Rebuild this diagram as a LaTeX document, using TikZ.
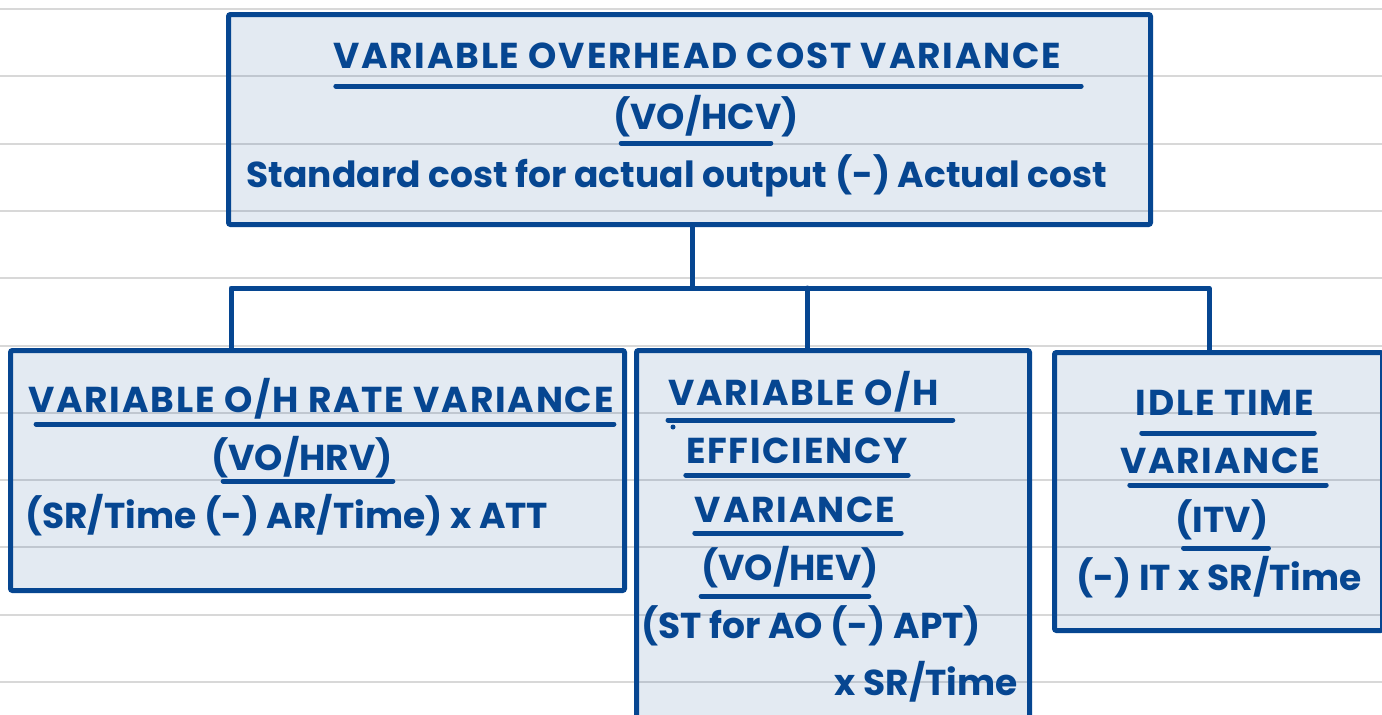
\documentclass[tikz,border=0pt]{standalone}
\usepackage{fontspec}
\setmainfont{Poppins}
\usetikzlibrary{positioning}
\definecolor{inkblue}{RGB}{6,70,145}
\definecolor{rulegray}{RGB}{216,216,216}

\begin{document}
\begin{tikzpicture}[x=1pt,y=-1pt,
                    box node/.style={draw=inkblue,line width=5pt,fill=inkblue,fill opacity=0.11,
                                     rounded corners=2pt,anchor=north west,inner sep=0pt},
                    label node/.style={text=inkblue,inner sep=0pt,anchor=base,
                                       font=\fontsize{36}{42}\selectfont\bfseries},
                    head node/.style={label node,
                                      font=\fontsize{36}{42}\selectfont\bfseries\addfontfeatures{LetterSpace=5}},
                    under/.style={draw=inkblue,line width=5pt,line cap=round},
                    link/.style={draw=inkblue,line width=5pt,line cap=round,line join=round}]

  \clip (0,0) rectangle (1382,715);
  \fill[white] (0,0) rectangle (1382,715);

  % notebook lines
  \foreach \k in {0,...,10}
    \draw[rulegray,line width=2pt] (0,{9+67.3*\k}) -- (1382,{9+67.3*\k});

  \node[box node,minimum width=922pt,minimum height=210pt] (top) at (226,12) {};
  \node[box node,minimum width=614pt,minimum height=240pt] (rate) at (8,348) {};
  \node[box node,minimum width=393pt,minimum height=400pt] (eff) at (634,348) {};
  \node[box node,minimum width=328pt,minimum height=278pt] (idle) at (1052,350) {};

  \node[head node] (t1) at (697,68) {VARIABLE OVERHEAD COST VARIANCE};
  \node[label node] (t2) at (706,129) {(VO/HCV)};
  \node[label node] (t3) at (677,187) {Standard cost for actual output (-) Actual cost};

  \node[head node] (r1) at (321,412) {VARIABLE O/H RATE VARIANCE};
  \node[label node] (r2) at (302,470) {(VO/HRV)};
  \node[label node,anchor=base west] (r3) at (25,528) {(SR/Time (-) AR/Time) x ATT};

  \node[head node,anchor=base west] (e1) at (668,405) {VARIABLE O/H};
  \node[head node] (e2) at (797,463) {EFFICIENCY};
  \node[head node] (e3) at (795,522) {VARIANCE};
  \node[label node] (e4) at (790,580) {(VO/HEV)};
  \node[label node,anchor=base west] (e5) at (641,638) {(ST for AO (-) APT)};
  \node[label node,anchor=base east] (e6) at (1018,695) {x SR/Time};

  \node[head node] (i1) at (1225,415) {IDLE TIME};
  \node[head node] (i2) at (1220,473) {VARIANCE};
  \node[label node] (i3) at (1222,532) {(ITV)};
  \node[label node] (i4) at (1219,590) {(-) IT x SR/Time};

  % underlines
  \draw[under] ([xshift=3pt,yshift=-18pt]t1.base west) -- ([xshift=20pt,yshift=-18pt]t1.base east);
  \draw[under] ([xshift=8pt,yshift=-14pt]t2.base west) -- ([xshift=-28pt,yshift=-14pt]t2.base east);
  \draw[under] ([xshift=8pt,yshift=-12pt]r1.base west) -- ([yshift=-12pt]r1.base east);
  \draw[under] ([xshift=12pt,yshift=-11pt]r2.base west) -- ([yshift=-11pt]r2.base east);
  \draw[under] ([yshift=-15pt]e1.base west) -- ([xshift=14pt,yshift=-15pt]e1.base east);
  \draw[under] ([yshift=-12pt]e2.base west) -- ([yshift=-12pt]e2.base east);
  \draw[under] ([yshift=-11pt]e3.base west) -- ([xshift=6pt,yshift=-11pt]e3.base east);
  \draw[under] ([yshift=-16pt]e4.base west) -- ([xshift=-10pt,yshift=-16pt]e4.base east);
  \draw[under] ([xshift=6pt,yshift=-18pt]i1.base west) -- ([yshift=-18pt]i1.base east);
  \draw[under] ([xshift=10pt,yshift=-12pt]i2.base west) -- ([xshift=6pt,yshift=-12pt]i2.base east);
  \draw[under] ([xshift=8pt,yshift=-16pt]i3.base west) -- ([yshift=-16pt]i3.base east);
  \fill[inkblue] (e1.base west) ++(5,22) circle (2.5pt);

  % connectors
  \coordinate (jt) at (692,288);
  \coordinate (jl) at (231,288);
  \coordinate (jm) at (807,288);
  \coordinate (jr) at (1209,288);
  \draw[link] (top.south -| jt) -- (jt);
  \draw[link] (jl |- rate.north) -- (jl) -- (jr) -- (jr |- idle.north);
  \draw[link] (jm) -- (jm |- eff.north);

\end{tikzpicture}
\end{document}
